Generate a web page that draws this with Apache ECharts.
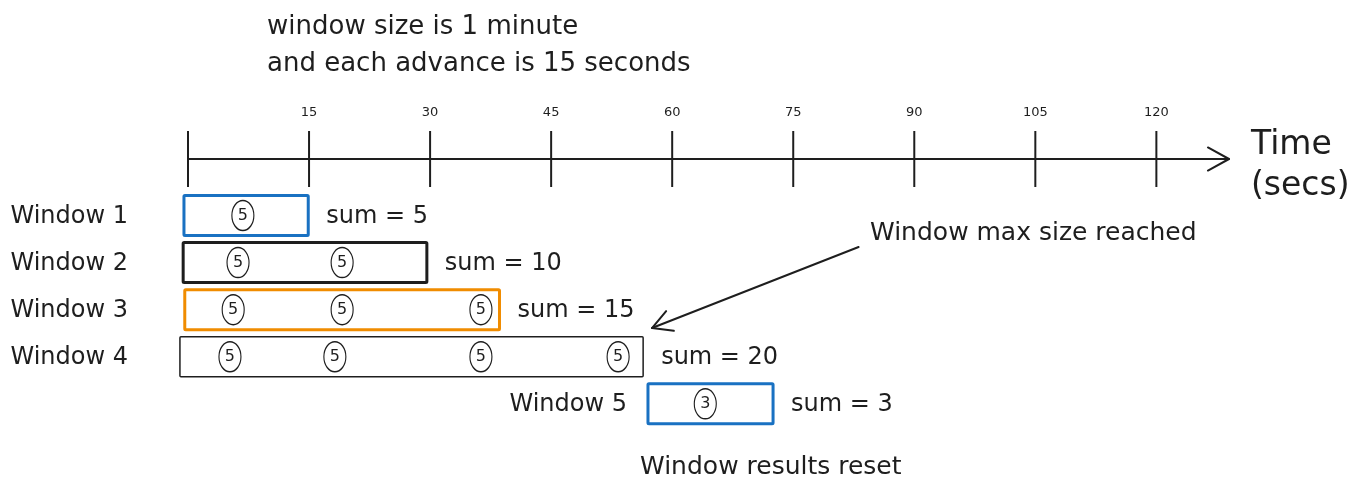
<!DOCTYPE html>
<html><head><meta charset="utf-8">
<script src="https://cdn.jsdelivr.net/npm/echarts@6/dist/echarts.min.js"></script>
<style>html,body{margin:0;padding:0;background:#fff}#c{width:1366px;height:498px}</style>
</head><body><div id="c"></div>
<script>
// ---- data ----
const tickValues = [0, 15, 30, 45, 60, 75, 90, 105, 120];
const windowNames = ['Window 1', 'Window 2', 'Window 3', 'Window 4', 'Window 5'];
const windowStart = [-0.5, -0.6, -0.4, -1.0, 57.0];
const windowEnd = [14.9, 29.6, 38.6, 56.4, 72.5];
const windowLane = [1, 2, 3, 4, 5];
const windowSum = [5, 10, 15, 20, 3];
const eventTimes = [[6.8], [6.2, 19.1], [5.6, 19.1, 36.3], [5.2, 18.2, 36.3, 53.3], [64.1]];
const eventValues = [[5], [5, 5], [5, 5, 5], [5, 5, 5, 5], [3]];
const titleLines = ['window size is 1 minute', 'and each advance is 15 seconds'];
const axisName = ['Time', '(secs)'];
const noteMax = 'Window max size reached';
const noteReset = 'Window results reset';
// annotation arrow: from note to end of window 4 (data coords)
const noteArrow = [83.1, 1.67, 57.5, 3.39];

// ---- style ----
const FONT = '"DejaVu Sans", sans-serif';
const INK = '#1e1e1e';
const X_MAX = 129, Y_MIN = -0.2, Y_MAX = 7;
const boxColors = ['#1971c2', INK, '#f08c00', INK, '#1971c2'];
const boxWidths = [3, 3, 3, 1.5, 3];

function chevron(p, ang, len, lw) {
  const a1 = ang + Math.PI - 0.5, a2 = ang + Math.PI + 0.5;
  return {
    type: 'polyline',
    shape: { points: [[p[0] + len * Math.cos(a1), p[1] + len * Math.sin(a1)], [p[0], p[1]], [p[0] + len * Math.cos(a2), p[1] + len * Math.sin(a2)]] },
    style: { stroke: INK, lineWidth: lw, fill: null, lineCap: 'round', lineJoin: 'round' }
  };
}

const windowData = windowNames.map((n, i) => [windowStart[i], windowLane[i], windowEnd[i], windowSum[i], i]);
const eventData = [];
eventTimes.forEach((arr, i) => arr.forEach((t, j) => eventData.push([t, windowLane[i], eventValues[i][j]])));

const chart = echarts.init(document.getElementById('c'));
chart.setOption({
  animation: false,
  backgroundColor: '#fff',
  title: {
    text: titleLines.join('\n'), left: 262, top: 4,
    textStyle: { fontFamily: FONT, fontSize: 26, fontWeight: 'normal', color: INK, lineHeight: 37 }
  },
  grid: { left: 188, top: 159, height: 346, width: 1041 },
  xAxis: {
    type: 'value', min: 0, max: X_MAX, interval: 15, position: 'top',
    axisLine: { show: true, onZero: false, lineStyle: { color: INK, width: 2 } },
    axisTick: { show: false },
    splitLine: { show: false },
    axisLabel: {
      margin: 40, color: INK, fontFamily: FONT, fontSize: 13,
      formatter: v => (tickValues.indexOf(v) > 0 ? String(v) : '')
    },
    name: '{s|}\n' + axisName.map(t => '{t|' + t + '}').join('\n'), nameLocation: 'end', nameGap: 22,
    nameTextStyle: {
      align: 'left', verticalAlign: 'middle',
      rich: {
        s: { lineHeight: 14, fontSize: 10 },
        t: { fontFamily: FONT, fontSize: 33, color: INK, lineHeight: 41 }
      }
    }
  },
  yAxis: { type: 'value', min: Y_MIN, max: Y_MAX, inverse: true, show: false },
  graphic: [
    { type: 'text', left: 870, top: 221, style: { text: noteMax, fontFamily: FONT, fontSize: 25, fill: INK } },
    { type: 'text', left: 640, top: 455, style: { text: noteReset, fontFamily: FONT, fontSize: 25, fill: INK } }
  ],
  series: [
    { // axis ticks
      type: 'custom', silent: true, clip: false,
      data: tickValues.map(v => [v, Y_MIN]),
      renderItem: (params, api) => {
        const p = api.coord([api.value(0), api.value(1)]);
        return { type: 'line', shape: { x1: p[0], y1: p[1] - 28, x2: p[0], y2: p[1] + 28 }, style: { stroke: INK, lineWidth: 2 } };
      }
    },
    { // axis arrow head
      type: 'custom', silent: true, clip: false,
      data: [[X_MAX, Y_MIN]],
      renderItem: (params, api) => {
        const p = api.coord([api.value(0), api.value(1)]);
        return chevron(p, 0, 24, 2);
      }
    },
    { // annotation arrow
      type: 'custom', silent: true, clip: false,
      data: [noteArrow],
      renderItem: (params, api) => {
        const p0 = api.coord([api.value(0), api.value(1)]);
        const p1 = api.coord([api.value(2), api.value(3)]);
        const ang = Math.atan2(p1[1] - p0[1], p1[0] - p0[0]);
        return { type: 'group', children: [
          { type: 'line', shape: { x1: p0[0], y1: p0[1], x2: p1[0], y2: p1[1] }, style: { stroke: INK, lineWidth: 2, lineCap: 'round' } },
          chevron(p1, ang, 22, 2)
        ] };
      }
    },
    { // windows
      type: 'custom', silent: true, clip: false,
      data: windowData,
      renderItem: (params, api) => {
        const i = api.value(4);
        const s = api.coord([api.value(0), api.value(1)]);
        const e = api.coord([api.value(2), api.value(1)]);
        const origin = api.coord([0, api.value(1)]);
        const h = 40;
        const nameX = api.value(0) <= 0 ? origin[0] - 60 : s[0] - 21;
        return { type: 'group', children: [
          { type: 'rect', shape: { x: s[0], y: s[1] - h / 2, width: e[0] - s[0], height: h, r: 1 },
            style: { fill: null, stroke: boxColors[i], lineWidth: boxWidths[i] } },
          { type: 'text', style: { text: windowNames[i], x: nameX, y: s[1] + 1, align: 'right', verticalAlign: 'middle', fontFamily: FONT, fontSize: 24, fill: INK } },
          { type: 'text', style: { text: 'sum = ' + api.value(3), x: e[0] + 18, y: s[1] + 1, align: 'left', verticalAlign: 'middle', fontFamily: FONT, fontSize: 24, fill: INK } }
        ] };
      }
    },
    { // events
      type: 'scatter', silent: true,
      data: eventData,
      symbol: 'circle', symbolSize: [22, 30],
      itemStyle: { color: '#fff', borderColor: INK, borderWidth: 1.3, opacity: 1 },
      label: { show: true, position: 'inside', formatter: p => String(p.value[2]), fontFamily: FONT, fontSize: 16, color: INK },
      z: 5
    }
  ]
});
</script>
</body></html>
